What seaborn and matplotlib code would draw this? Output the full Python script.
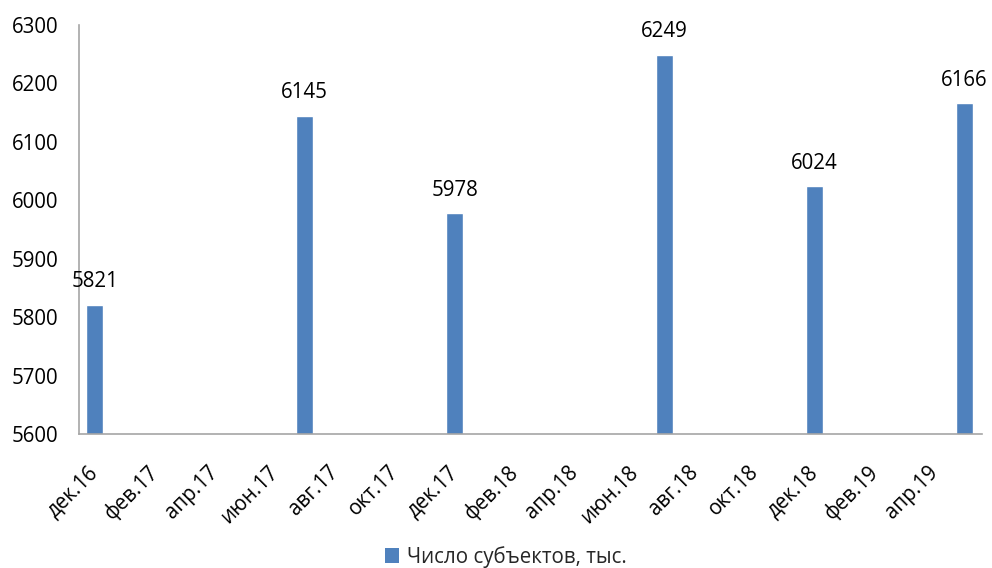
import matplotlib
matplotlib.use("Agg")
import matplotlib.pyplot as plt
import matplotlib.transforms as mtransforms
import seaborn as sns
import pandas as pd
from matplotlib.patches import Patch

# ---- data ----
month_names = ["янв", "фев", "мар", "апр", "май", "июн",
               "июл", "авг", "сен", "окт", "ноя", "дек"]
axis_months = ["дек.16"] + [f"{m}.17" for m in month_names] + \
              [f"{m}.18" for m in month_names] + \
              [f"{m}.19" for m in month_names[:5]]
bar_months = ["дек.16", "июл.17", "дек.17", "июл.18", "дек.18", "май.19"]
bar_values = [5821, 6145, 5978, 6249, 6024, 6166]
series_name = "Число субъектов, тыс."
tick_labels = axis_months[::2]

df = pd.DataFrame({"month": bar_months, "value": bar_values})

sns.set_theme(style="white")
plt.rcParams["font.family"] = ["Open Sans", "DejaVu Sans"]

BAR = "#4F81BD"
AXC = "#A6A6A6"
FS = 14.8

fig = plt.figure(figsize=(9.92, 5.68), dpi=100)
ax = fig.add_axes([0.0796, 0.236, 0.9104, 0.720])

sns.barplot(data=df, x="month", y="value", order=axis_months,
            color=BAR, saturation=1, width=0.58, ax=ax, errorbar=None)

ax.set_ylim(5600, 6300)
ax.set_yticks(range(5600, 6301, 100))
ax.set_xlim(-0.52, len(axis_months) - 0.42)

tick_pos = [axis_months.index(t) for t in tick_labels]
ax.set_xticks(tick_pos)
ax.set_xticklabels(tick_labels, rotation=45, ha="right", va="top")
ax.tick_params(axis="x", length=0, pad=20, labelsize=FS, colors="black")
ax.tick_params(axis="y", length=0, pad=15, labelsize=FS, colors="black")
shift = mtransforms.ScaledTranslation(8 / 100, 0, fig.dpi_scale_trans)
for lab in ax.get_xticklabels():
    lab.set_color("black")
    lab.set_transform(lab.get_transform() + shift)

ax.set_xlabel("")
ax.set_ylabel("")
for s in ["top", "right"]:
    ax.spines[s].set_visible(False)
for s in ["left", "bottom"]:
    ax.spines[s].set_color(AXC)
    ax.spines[s].set_linewidth(1.2)

for cont in ax.containers:
    ax.bar_label(cont, labels=[str(v) for v in bar_values], padding=9,
                 fontsize=FS, color="black")

fig.legend(handles=[Patch(facecolor=BAR, edgecolor="none", label=series_name)],
           loc="lower center", bbox_to_anchor=(0.51, -0.032), frameon=False,
           fontsize=FS, handlelength=0.7, handleheight=0.7, handletextpad=0.4)

fig.savefig("out.png", dpi=100)
